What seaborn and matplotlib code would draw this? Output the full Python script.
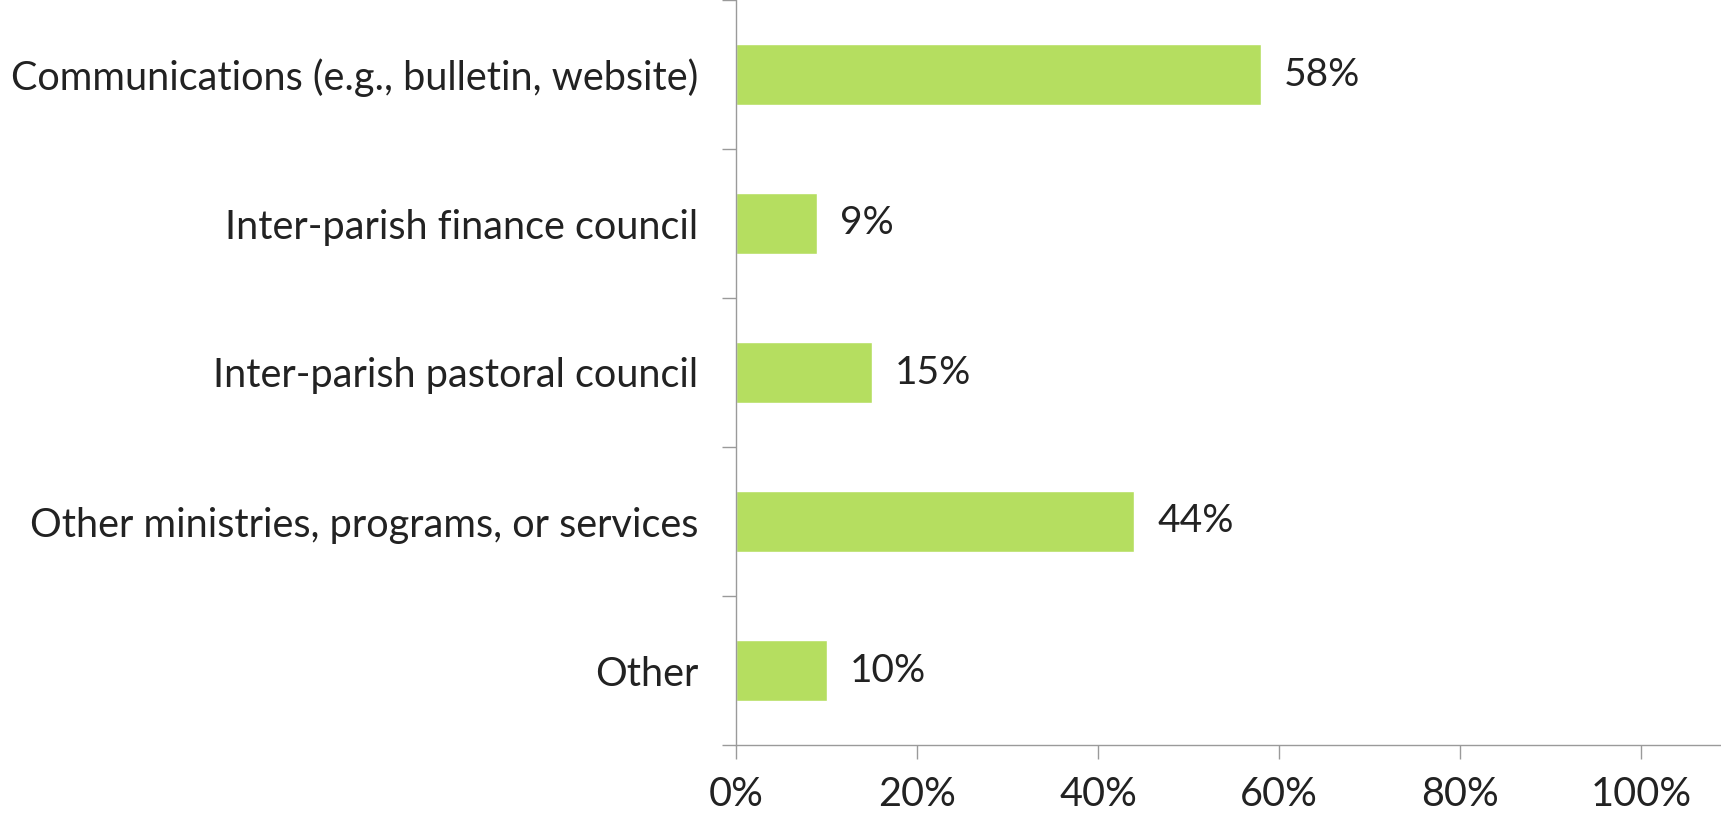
import matplotlib
matplotlib.use('Agg')
import matplotlib.pyplot as plt
import seaborn as sns
import numpy as np
import pandas as pd
from matplotlib.ticker import PercentFormatter, FixedLocator

categories = ['Communications (e.g., bulletin, website)',
              'Inter-parish finance council',
              'Inter-parish pastoral council',
              'Other ministries, programs, or services',
              'Other']
shares = [0.58, 0.09, 0.15, 0.44, 0.10]
value_labels = ['58%', '9%', '15%', '44%', '10%']
x_ticks = [0, 0.2, 0.4, 0.6, 0.8, 1.0]

df = pd.DataFrame({'category': categories, 'share': shares})

sns.set_style('white')
plt.rcParams['font.family'] = ['Lato', 'DejaVu Sans']

fig = plt.figure(figsize=(17.21, 8.15), dpi=100)
ax = fig.add_axes([736 / 1721, 1 - 745 / 815, 1 - 736 / 1721, 745 / 815])

sns.barplot(data=df, x='share', y='category', orient='h', color='#b5de60',
            width=0.41, saturation=1, ax=ax)

ax.set_xlim(0, 1.088)
ax.set_ylim(4.5, -0.5)
ax.xaxis.set_major_formatter(PercentFormatter(1.0, decimals=0))
ax.set_xticks(x_ticks)
ax.set_xlabel('')
ax.set_ylabel('')

# category boundaries carry the y ticks, labels stay centered
ax.yaxis.set_minor_locator(FixedLocator(np.arange(-0.5, 5, 1)))
ax.tick_params(axis='y', which='major', left=False, length=0, pad=27,
               labelsize=28.5, labelcolor='#222222')
ax.tick_params(axis='y', which='minor', left=True, length=10, width=1,
               color='#9a9a9a', direction='out')
ax.tick_params(axis='x', bottom=True, length=10, width=1, color='#9a9a9a', direction='out',
               pad=12, labelsize=28.5, labelcolor='#222222')

for side in ['top', 'right']:
    ax.spines[side].set_visible(False)
for side in ['left', 'bottom']:
    ax.spines[side].set_color('#9a9a9a')
    ax.spines[side].set_linewidth(1)

for i, (v, lab) in enumerate(zip(shares, value_labels)):
    ax.annotate(lab, (v, i), xytext=(23, 0), textcoords='offset pixels',
                va='center', ha='left', fontsize=28, color='#222222')

fig.savefig('out.png', dpi=100)
